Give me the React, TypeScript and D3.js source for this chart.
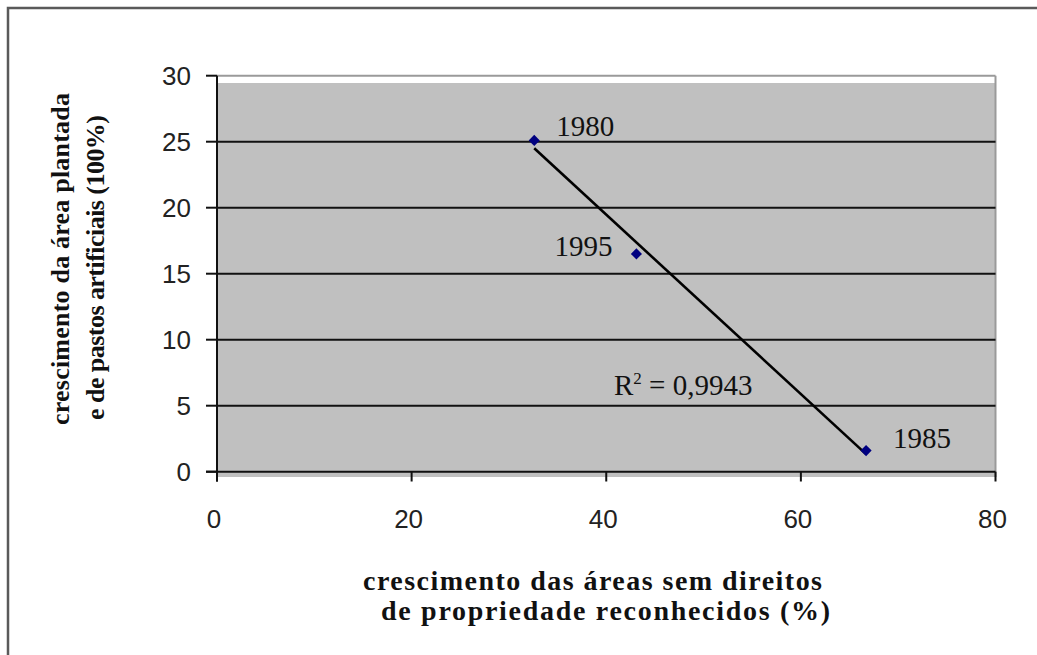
import React from "react";
import * as d3 from "d3";

const years = ["1980", "1995", "1985"];
const xValues = [32.6, 43.1, 66.7];
const yValues = [25.1, 16.5, 1.6];
const xTicks = [0, 20, 40, 60, 80];
const yTicks = [0, 5, 10, 15, 20, 25, 30];
const r2Label = "0,9943";
const xTitle = ["crescimento das áreas sem direitos", "de propriedade reconhecidos (%)"];
const yTitle = ["crescimento da área plantada", "e de pastos artificiais (100%)"];

const W = 1037;
const H = 655;

export default function App() {
  const x = d3.scaleLinear().domain([0, 80]).range([217, 995.5]);
  const y = d3.scaleLinear().domain([0, 30]).range([471.7, 75.7]);

  // linear regression (trendline)
  const n = xValues.length;
  const mx = d3.mean(xValues) as number;
  const my = d3.mean(yValues) as number;
  let sxy = 0, sxx = 0;
  for (let i = 0; i < n; i++) {
    sxy += (xValues[i] - mx) * (yValues[i] - my);
    sxx += (xValues[i] - mx) ** 2;
  }
  const slope = sxy / sxx;
  const icpt = my - slope * mx;
  const xMin = d3.min(xValues) as number;
  const xMax = d3.max(xValues) as number;
  const trend: [number, number][] = [
    [xMin, icpt + slope * xMin],
    [xMax, icpt + slope * xMax],
  ];
  const line = d3.line<[number, number]>().x((d) => x(d[0])).y((d) => y(d[1]));
  const diamond = d3.symbol().type(d3.symbolSquare).size(62)();

  const labelOffsets: Record<string, [number, number]> = {
    "1980": [22, -4],
    "1995": [-82, 2],
    "1985": [27, -3],
  };

  const serif = "'Liberation Serif', 'Times New Roman', serif";
  const sans = "'Liberation Sans', Arial, sans-serif";

  return (
    <svg
      width={W}
      height={H}
      style={{ position: "absolute", left: 0, top: 0, background: "#fff" }}
    >
      <rect x={8} y={8} width={W + 10} height={H + 10} fill="#fff" stroke="#5a5a5a" strokeWidth={2.5} />
      {/* plot area */}
      <rect x={x(0)} y={y(30)} width={x(80) - x(0)} height={477 - y(30)} fill="#fff" />
      <rect x={x(0)} y={83} width={x(80) - x(0)} height={477 - 83} fill="#c0c0c0" />
      <line x1={x(0)} x2={x(80)} y1={y(30)} y2={y(30)} stroke="#9a9a9a" strokeWidth={2} />
      <line x1={x(80)} x2={x(80)} y1={y(30)} y2={477} stroke="#9a9a9a" strokeWidth={2} />
      {/* gridlines */}
      {yTicks.filter((t) => t > 0 && t < 30).map((t) => (
        <line key={t} x1={x(0)} x2={x(80)} y1={y(t)} y2={y(t)} stroke="#111" strokeWidth={2} />
      ))}
      {/* axes */}
      <line x1={x(0)} x2={x(0)} y1={y(30)} y2={481.5} stroke="#111" strokeWidth={2} />
      <line x1={206} x2={x(80)} y1={y(0)} y2={y(0)} stroke="#111" strokeWidth={2} />
      {yTicks.map((t) => (
        <g key={t}>
          <line x1={206} x2={x(0)} y1={y(t)} y2={y(t)} stroke="#111" strokeWidth={2} />
          <text x={191} y={y(t) + 9.5} textAnchor="end" fontFamily={sans} fontSize={26} fill="#222">
            {t}
          </text>
        </g>
      ))}
      {xTicks.map((t) => (
        <g key={t}>
          <line x1={x(t)} x2={x(t)} y1={y(0)} y2={481.5} stroke="#111" strokeWidth={2} />
          <text x={x(t) - 3} y={527.5} textAnchor="middle" fontFamily={sans} fontSize={26} fill="#222">
            {t}
          </text>
        </g>
      ))}
      {/* trendline */}
      <path d={line(trend) || ""} fill="none" stroke="#000" strokeWidth={2.6} />
      {/* points */}
      {xValues.map((v, i) => (
        <path
          key={i}
          d={diamond || ""}
          transform={`translate(${x(v)},${y(yValues[i])}) rotate(45)`}
          fill="#000080"
        />
      ))}
      {years.map((yr, i) => (
        <text
          key={yr}
          x={x(xValues[i]) + labelOffsets[yr][0]}
          y={y(yValues[i]) + labelOffsets[yr][1]}
          fontFamily={serif}
          fontSize={29}
          fill="#111"
        >
          {yr}
        </text>
      ))}
      {/* R² */}
      <text x={614} y={395} fontFamily={serif} fontSize={29} fill="#111">
        R
        <tspan fontSize={17} dy={-11}>2</tspan>
        <tspan dy={11}> = {r2Label}</tspan>
      </text>
      {/* axis titles */}
      <text x={592.5} y={590} textAnchor="middle" fontFamily={serif} fontWeight="bold" fontSize={28} fill="#111" textLength={459} lengthAdjust="spacing">
        {xTitle[0]}
      </text>
      <text x={605.5} y={620} textAnchor="middle" fontFamily={serif} fontWeight="bold" fontSize={28} fill="#111" textLength={449} lengthAdjust="spacing">
        {xTitle[1]}
      </text>
      <text transform={`translate(69,259) rotate(-90)`} textAnchor="middle" fontFamily={serif} fontWeight="bold" fontSize={26} fill="#111" textLength={332} lengthAdjust="spacing">
        {yTitle[0]}
      </text>
      <text transform={`translate(104,267.5) rotate(-90)`} textAnchor="middle" fontFamily={serif} fontWeight="bold" fontSize={26} fill="#111" textLength={305} lengthAdjust="spacing">
        {yTitle[1]}
      </text>
    </svg>
  );
}
